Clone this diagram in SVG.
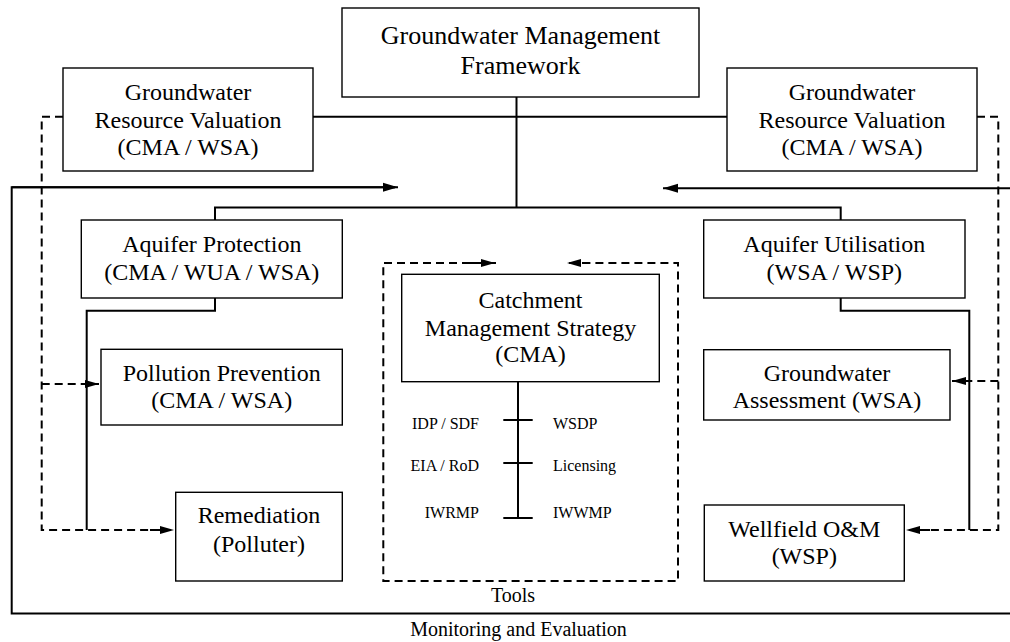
<svg xmlns="http://www.w3.org/2000/svg" width="1010" height="642" viewBox="0 0 1010 642" font-family="'Liberation Serif', Tinos, 'DejaVu Serif', serif">
<style>
  .box { fill: #fff; stroke: #000; stroke-width: 1.4; }
  .t { font-size: 24px; fill: #000; text-anchor: middle; }
  .big { font-size: 26px; }
  .sm { font-size: 16px; fill: #000; }
  .lbl { font-size: 20px; fill: #000; text-anchor: middle; }
  .s { fill: none; stroke: #000; stroke-width: 2; }
  .d { fill: none; stroke: #000; stroke-width: 2; stroke-dasharray: 8 5; }
</style>
<defs>
  <marker id="ah" markerUnits="userSpaceOnUse" markerWidth="16" markerHeight="10" refX="15" refY="5" orient="auto">
    <path d="M0,0.5 L15,5 L0,9.5 Z" fill="#000"/>
  </marker>
  <marker id="ahd" markerUnits="userSpaceOnUse" markerWidth="14" markerHeight="10" refX="14" refY="5" orient="auto">
    <path d="M0,1 L14,5 L0,9 Z" fill="#000"/>
  </marker>
</defs>
<rect width="1010" height="642" fill="#fff"/>

<g id="connectors">
  <path class="s" d="M516.5,97 V207.5"/>
  <path class="s" d="M313,116.7 H727"/>
  <path class="s" d="M215,220 V207.5 H840.7 V220"/>
  <path class="s" d="M215,298 V310.7 H86.7 V530"/>
  <path class="s" d="M840.7,298 V310.7 H969.3 V530"/>
  <path class="s" d="M395,187.3 H11.7 V613.5 H1010"/>
  <path class="s" d="M11.7,187.3 H398" marker-end="url(#ah)"/>
  <path class="s" d="M1010,188.3 H663" marker-end="url(#ah)"/>
  <path class="d" d="M63,116.7 H41.7 V530 H160"/>
  <path class="d" d="M41.7,384 H99" marker-end="url(#ahd)"/>
  <path class="d" d="M150,530 H174" marker-end="url(#ahd)"/>
  <path class="d" d="M977,116.7 H998.3 V530 H920"/>
  <path class="d" d="M998.3,381 H952" marker-end="url(#ahd)"/>
  <path class="d" d="M930,530 H906" marker-end="url(#ahd)"/>
  <path class="d" d="M496,263 H383.3 V581 H678 V263 H566"/>
  <path class="d" d="M470,263 H495" marker-end="url(#ahd)"/>
  <path class="d" d="M590,263 H567" marker-end="url(#ahd)"/>
  <path class="s" d="M518,382 V518"/>
  <path class="s" d="M503.3,420 H532.7"/>
  <path class="s" d="M503.3,463 H532.7"/>
  <path class="s" d="M503.3,518 H532.7"/>
</g>

<g id="framework">
  <rect class="box" x="342" y="8" width="357" height="89"/>
  <text class="t big" x="520.5" y="44">Groundwater Management</text>
  <text class="t big" x="520.5" y="74">Framework</text>
</g>
<g id="valuation-left">
  <rect class="box" x="63" y="68" width="250" height="103"/>
  <text class="t" x="188" y="100">Groundwater</text>
  <text class="t" x="188" y="128">Resource Valuation</text>
  <text class="t" x="188" y="155">(CMA / WSA)</text>
</g>
<g id="valuation-right">
  <rect class="box" x="727" y="68" width="250" height="103"/>
  <text class="t" x="852" y="100">Groundwater</text>
  <text class="t" x="852" y="128">Resource Valuation</text>
  <text class="t" x="852" y="155">(CMA / WSA)</text>
</g>
<g id="aquifer-protection">
  <rect class="box" x="81.3" y="220" width="261" height="78"/>
  <text class="t" x="211.8" y="251.7">Aquifer Protection</text>
  <text class="t" x="211.8" y="280">(CMA / WUA / WSA)</text>
</g>
<g id="aquifer-utilisation">
  <rect class="box" x="703.7" y="220" width="261.3" height="78"/>
  <text class="t" x="834.3" y="251.7">Aquifer Utilisation</text>
  <text class="t" x="834.3" y="280">(WSA / WSP)</text>
</g>
<g id="pollution-prevention">
  <rect class="box" x="101" y="349.3" width="241.3" height="75.7"/>
  <text class="t" x="221.7" y="381">Pollution Prevention</text>
  <text class="t" x="221.7" y="408.3">(CMA / WSA)</text>
</g>
<g id="remediation">
  <rect class="box" x="175.7" y="492.3" width="166.6" height="88.7"/>
  <text class="t" x="259" y="523.3">Remediation</text>
  <text class="t" x="259" y="551.7">(Polluter)</text>
</g>
<g id="catchment">
  <rect class="box" x="401.7" y="274.3" width="257.6" height="107.4"/>
  <text class="t" x="530.5" y="307.7">Catchment</text>
  <text class="t" x="530.5" y="336">Management Strategy</text>
  <text class="t" x="530.5" y="362.3">(CMA)</text>
</g>
<g id="gw-assessment">
  <rect class="box" x="703.7" y="349.7" width="246.3" height="70.3"/>
  <text class="t" x="827" y="381">Groundwater</text>
  <text class="t" x="827" y="408">Assessment (WSA)</text>
</g>
<g id="wellfield">
  <rect class="box" x="704.3" y="505" width="200" height="76"/>
  <text class="t" x="804.3" y="536.7">Wellfield O&amp;M</text>
  <text class="t" x="804.3" y="564.3">(WSP)</text>
</g>
<g id="tools">
  <text class="sm" x="479" y="429.3" text-anchor="end">IDP / SDF</text>
  <text class="sm" x="479" y="470.7" text-anchor="end">EIA / RoD</text>
  <text class="sm" x="479" y="518.3" text-anchor="end">IWRMP</text>
  <text class="sm" x="553" y="429.3">WSDP</text>
  <text class="sm" x="553" y="470.7">Licensing</text>
  <text class="sm" x="553" y="518.3">IWWMP</text>
  <text class="lbl" x="513" y="601.7">Tools</text>
</g>
<g id="monitoring">
  <text class="lbl" x="518.5" y="636">Monitoring and Evaluation</text>
</g>
</svg>
